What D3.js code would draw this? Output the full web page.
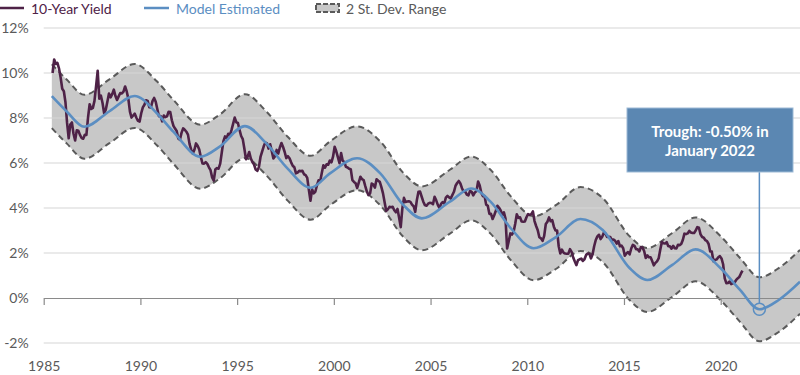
<!DOCTYPE html>
<html>
<head>
<meta charset="utf-8">
<script src="https://cdn.jsdelivr.net/npm/d3@7"></script>
<style>
  body { margin: 0; background: #fff; }
  svg { display: block; font-family: Lato, "Open Sans", sans-serif; }
</style>
</head>
<body>
<div id="wrapper"></div>
<script>
// 10-year yield, monthly, starting June 1985
var yieldStart = [1985, 6];
var yieldValues = [
  10.0, 10.6, 10.4, 10.45, 10.2, 9.8, 9.3,
  9.19, 8.70, 7.78, 7.10, 7.71, 7.80, 7.30, 7.00, 7.45, 7.43, 7.25, 7.11,
  7.08, 7.25, 7.25, 8.02, 8.61, 8.40, 8.45, 8.76, 9.42, 10.1, 8.86, 8.99,
  8.67, 8.21, 8.37, 8.72, 9.09, 8.92, 9.06, 9.26, 8.98, 8.80, 8.96, 9.11,
  9.09, 9.17, 9.40, 9.18, 8.86, 8.28, 8.02, 8.11, 8.19, 8.01, 7.87, 7.84,
  8.21, 8.47, 8.59, 8.79, 8.76, 8.48, 8.47, 8.75, 8.89, 8.72, 8.39, 8.08,
  8.09, 7.85, 8.11, 8.04, 8.07, 8.28, 8.27, 7.90, 7.65, 7.53, 7.42, 7.09,
  7.03, 7.34, 7.54, 7.48, 7.39, 7.26, 6.84, 6.59, 6.42, 6.59, 6.87, 6.77,
  6.60, 6.26, 5.98, 5.97, 6.04, 5.96, 5.81, 5.68, 5.36, 5.22, 5.72, 5.77,
  5.75, 5.97, 6.48, 6.97, 7.18, 7.10, 7.30, 7.24, 7.46, 7.74, 8.02, 7.81,
  7.78, 7.47, 7.20, 7.06, 6.63, 6.17, 6.28, 6.49, 6.20, 6.04, 5.93, 5.71,
  5.65, 5.81, 6.27, 6.51, 6.74, 6.91, 6.87, 6.64, 6.83, 6.53, 6.20, 6.30,
  6.58, 6.42, 6.69, 6.89, 6.71, 6.49, 6.22, 6.30, 6.21, 6.03, 5.88, 5.81,
  5.54, 5.57, 5.65, 5.64, 5.65, 5.50, 5.46, 5.34, 4.81, 4.32, 4.83, 4.65,
  4.72, 5.00, 5.23, 5.18, 5.54, 5.90, 5.79, 5.94, 5.92, 6.11, 6.03, 6.28,
  6.72, 6.52, 6.26, 5.99, 6.44, 6.10, 6.05, 5.83, 5.80, 5.74, 5.72, 5.24,
  5.16, 5.10, 4.89, 5.14, 5.39, 5.28, 5.24, 4.97, 4.73, 4.57, 4.65, 5.09,
  5.04, 4.91, 5.28, 5.21, 5.16, 4.93, 4.65, 4.26, 3.87, 3.94, 4.05, 4.03,
  4.05, 3.90, 3.81, 3.96, 3.57, 3.15, 3.98, 4.45, 4.27, 4.29, 4.30, 4.27,
  4.15, 4.08, 3.83, 4.35, 4.72, 4.73, 4.50, 4.28, 4.13, 4.10, 4.19, 4.23,
  4.22, 4.17, 4.50, 4.34, 4.14, 4.00, 4.18, 4.26, 4.20, 4.46, 4.54, 4.47,
  4.42, 4.57, 4.72, 4.99, 5.11, 5.20, 5.09, 4.88, 4.72, 4.73, 4.60, 4.56,
  4.76, 4.72, 4.56, 4.69, 4.75, 5.18, 5.00, 4.67, 4.52, 4.53, 4.15, 4.10,
  3.74, 3.74, 3.51, 3.68, 3.88, 4.10, 4.01, 3.89, 3.69, 3.81, 3.53, 2.20,
  2.52, 2.87, 2.82, 2.93, 3.29, 3.72, 3.56, 3.59, 3.40, 3.39, 3.40, 3.59,
  3.73, 3.69, 3.73, 3.85, 3.42, 3.20, 3.01, 2.70, 2.65, 2.54, 2.76, 3.29,
  3.39, 3.58, 3.41, 3.46, 3.17, 3.00, 3.00, 2.30, 1.98, 2.15, 2.01, 1.98,
  1.97, 1.97, 2.17, 2.05, 1.80, 1.62, 1.46, 1.68, 1.72, 1.75, 1.65, 1.72,
  1.91, 1.98, 1.96, 1.76, 1.93, 2.30, 2.58, 2.74, 2.81, 2.62, 2.72, 2.90,
  2.86, 2.71, 2.72, 2.71, 2.56, 2.60, 2.54, 2.42, 2.53, 2.30, 2.33, 2.21,
  1.88, 1.98, 2.04, 1.94, 2.20, 2.36, 2.32, 2.17, 2.17, 2.07, 2.26, 2.24,
  2.09, 1.78, 1.89, 1.81, 1.81, 1.64, 1.45, 1.56, 1.63, 1.76, 2.14, 2.49,
  2.43, 2.42, 2.48, 2.30, 2.30, 2.19, 2.32, 2.21, 2.20, 2.36, 2.35, 2.40,
  2.58, 2.86, 2.84, 2.87, 2.98, 2.91, 2.89, 2.89, 3.00, 3.15, 3.12, 2.83,
  2.71, 2.68, 2.57, 2.53, 2.40, 2.07, 2.06, 1.63, 1.70, 1.71, 1.81, 1.86,
  1.76, 1.50, 0.87, 0.66, 0.67, 0.73, 0.62, 0.65, 0.68, 0.79, 0.87, 0.93,
  1.08, 1.22
];

// model estimate, read at turning points and midpoints
var modelYears = [1985.42, 1986.2, 1987.1, 1988.4, 1989.7, 1990.85, 1991.7, 1993.1, 1994.1, 1995.4,
  1996.5, 1997.6, 1998.8, 1999.8, 2001.2, 2002.4, 2003.6, 2004.55, 2006.0, 2007.1,
  2008.1, 2009.15, 2010.33, 2011.5, 2012.75, 2013.9, 2015.3, 2016.2, 2017.5, 2018.7,
  2020.0, 2021.0, 2022.0, 2023.0, 2024.1];
var modelValues = [8.97, 8.28, 7.61, 8.30, 8.98, 8.21, 7.39, 6.28, 6.73, 7.64,
  6.88, 5.76, 4.90, 5.54, 6.21, 5.54, 4.13, 3.54, 4.28, 4.87,
  4.28, 3.10, 2.21, 2.72, 3.51, 3.02, 1.32, 0.80, 1.47, 2.16,
  1.32, 0.36, -0.50, -0.09, 0.72];
var twoStDev = 1.42;

var yTicks = [-2, 0, 2, 4, 6, 8, 10, 12];
var xTicks = [1985, 1990, 1995, 2000, 2005, 2010, 2015, 2020];

var trough = { year: 2022.0, value: -0.50, lines: ["Trough: -0.50% in", "January 2022"] };

var width = 800, height = 375;
var x = d3.scaleLinear().domain([1985, 2024.1]).range([43.7, 800]);
var y = d3.scaleLinear().domain([-2, 12]).range([343, 28]);

var svg = d3.select("#wrapper").append("svg")
  .attr("width", width)
  .attr("height", height);

var yieldData = yieldValues.map(function(v, i) {
  return { t: yieldStart[0] + (yieldStart[1] - 1 + i + 0.5) / 12, v: v };
});
var modelData = modelYears.map(function(t, i) { return { t: t, v: modelValues[i] }; });

// band
var area = d3.area()
  .x(d => x(d.t))
  .y0(d => y(d.v - twoStDev))
  .y1(d => y(d.v + twoStDev))
  .curve(d3.curveMonotoneX);

svg.append("path")
  .datum(modelData)
  .attr("d", area)
  .attr("fill", "#c8c8c8");

// gridlines
svg.append("g").selectAll("line")
  .data(yTicks.filter(d => d != 0))
  .enter().append("line")
  .attr("x1", x(1985)).attr("x2", width)
  .attr("y1", d => y(d)).attr("y2", d => y(d))
  .attr("stroke", "#d6d6d6")
  .attr("stroke-width", 1.2);

// band edges
[twoStDev, -twoStDev].forEach(function(off) {
  svg.append("path")
    .datum(modelData)
    .attr("d", d3.line().x(d => x(d.t)).y(d => y(d.v + off)).curve(d3.curveMonotoneX))
    .attr("fill", "none")
    .attr("stroke", "#5a5a5a")
    .attr("stroke-width", 2)
    .attr("stroke-dasharray", "6,4");
});

// zero axis with ticks
var xAxis = svg.append("g")
  .attr("transform", "translate(0," + y(0) + ")")
  .call(d3.axisBottom(x).tickValues(xTicks).tickSize(7).tickSizeOuter(0).tickFormat(""));
xAxis.select(".domain").attr("stroke", "#8a8a8a").attr("stroke-width", 1.2);
xAxis.selectAll(".tick line").attr("stroke", "#8a8a8a").attr("stroke-width", 1.2);

// x labels
var xLabels = svg.append("g")
  .attr("transform", "translate(0," + y(-2) + ")")
  .call(d3.axisBottom(x).tickValues(xTicks).tickSize(0).tickPadding(18).tickFormat(d3.format("d")));
xLabels.select(".domain").remove();
xLabels.selectAll("text").attr("font-size", 14).attr("fill", "#5a5a5a").attr("font-family", "Lato");

// y labels
var yLabels = svg.append("g")
  .attr("transform", "translate(" + x(1985) + ",0)")
  .call(d3.axisLeft(y).tickValues(yTicks).tickSize(0).tickPadding(15).tickFormat(d => d + "%"));
yLabels.select(".domain").remove();
yLabels.selectAll("text").attr("font-size", 14).attr("fill", "#5a5a5a").attr("font-family", "Lato");

// 10-year yield
svg.append("path")
  .datum(yieldData)
  .attr("d", d3.line().x(d => x(d.t)).y(d => y(d.v)))
  .attr("fill", "none")
  .attr("stroke", "#4e2247")
  .attr("stroke-width", 2.6)
  .attr("stroke-linejoin", "round");

// model
svg.append("path")
  .datum(modelData)
  .attr("d", d3.line().x(d => x(d.t)).y(d => y(d.v)).curve(d3.curveMonotoneX))
  .attr("fill", "none")
  .attr("stroke", "#5b8ec2")
  .attr("stroke-width", 2.6);

// trough annotation
var tx = x(trough.year), ty = y(trough.value);
var box = { left: 627, top: 108, w: 166, h: 64 };
svg.append("line")
  .attr("x1", tx).attr("x2", tx)
  .attr("y1", box.top + box.h).attr("y2", ty - 6)
  .attr("stroke", "#5b8ec2").attr("stroke-width", 1.5);
svg.append("circle")
  .attr("cx", tx).attr("cy", ty).attr("r", 6)
  .attr("fill", "none")
  .attr("stroke", "#5b8ec2").attr("stroke-width", 1.5);
svg.append("rect")
  .attr("x", box.left).attr("y", box.top)
  .attr("width", box.w).attr("height", box.h)
  .attr("fill", "#5b87b2")
  .attr("stroke", "#9dbad6").attr("stroke-width", 1);
svg.append("text")
  .attr("x", box.left + box.w / 2).attr("y", box.top + 29)
  .attr("text-anchor", "middle")
  .attr("fill", "#fff").attr("font-size", 15).attr("font-weight", "bold")
  .selectAll("tspan").data(trough.lines).enter().append("tspan")
  .attr("x", box.left + box.w / 2)
  .attr("dy", (d, i) => i ? 19 : 0)
  .text(d => d);

// legend
var legend = svg.append("g").attr("font-size", 14);
legend.append("line").attr("x1", 0).attr("x2", 24).attr("y1", 8).attr("y2", 8)
  .attr("stroke", "#4e2247").attr("stroke-width", 2.5);
legend.append("text").attr("x", 31).attr("y", 13.5).attr("fill", "#4e2247").text("10-Year Yield");
legend.append("line").attr("x1", 144).attr("x2", 169).attr("y1", 8).attr("y2", 8)
  .attr("stroke", "#5b8ec2").attr("stroke-width", 2.5);
legend.append("text").attr("x", 176).attr("y", 13.5).attr("fill", "#5b8ec2").text("Model Estimated");
legend.append("rect").attr("x", 316).attr("y", 4).attr("width", 23).attr("height", 8)
  .attr("fill", "#c8c8c8").attr("stroke", "#5a5a5a").attr("stroke-width", 2)
  .attr("stroke-dasharray", "5,2");
legend.append("text").attr("x", 346).attr("y", 13.5).attr("fill", "#5a5a5a").text("2 St. Dev. Range");
</script>
</body>
</html>
